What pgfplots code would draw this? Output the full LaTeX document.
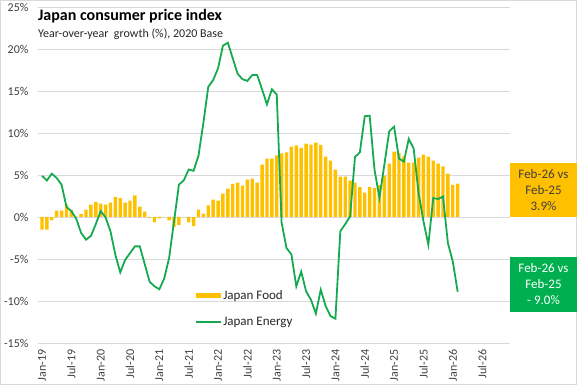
\documentclass[border=0pt]{standalone}
\usepackage{fontspec}
\setmainfont{Carlito}
\usepackage{pgfplots}
\pgfplotsset{compat=1.18}
\definecolor{food}{RGB}{255,192,0}
\definecolor{energy}{RGB}{22,170,80}
\definecolor{boxgreen}{RGB}{0,176,80}
\definecolor{gridc}{RGB}{217,217,217}
\definecolor{lab}{RGB}{64,64,64}
\begin{document}
\begin{tikzpicture}
\useasboundingbox (0pt,0pt) rectangle (577pt,385pt);
\draw[gridc, line width=0.8pt] (0.4pt,0.4pt) rectangle (576.6pt,384.6pt);
\begin{axis}[
  at={(38pt,42pt)}, anchor=south west,
  scale only axis, width=472pt, height=336pt,
  xmin=-0.82, xmax=95.7, ymin=-15, ymax=25,
  ytick={-15,-10,...,25},
  yticklabel={\pgfmathprintnumber{\tick}\%},
  xtick={0,6,...,90},
  xticklabels={Jan-19,Jul-19,Jan-20,Jul-20,Jan-21,Jul-21,Jan-22,Jul-22,Jan-23,Jul-23,Jan-24,Jul-24,Jan-25,Jul-25,Jan-26,Jul-26},
  xticklabel style={yshift=-3pt, rotate=90, anchor=east, font=\fontsize{12}{12}\selectfont, text=lab},
  yticklabel style={xshift=-6pt, font=\fontsize{12}{12}\selectfont, text=lab},
  ymajorgrids, grid style={gridc, line width=0.8pt},
  axis line style={draw=none}, major tick style={draw=none},
  /pgf/number format/assume math mode=true,
  legend style={at={(0.3326,0.160)}, anchor=north west, draw=none, fill=none,
    inner sep=0pt, row sep=14pt, font=\fontsize{13}{13}\selectfont, text=black!85,
    nodes={inner sep=1pt}},
  legend cell align=left,
]
\addplot[ybar, bar width=3.4pt, bar shift=0pt, draw=none, fill=food,
  legend image code/.code={\fill[food] (0pt,-2.5pt) rectangle (25.5pt,2.5pt);}]
coordinates {
(0,-1.5)(1,-1.5)(2,-0.4)(3,0.75)(4,0.75)(5,1.47)(6,0.85)(7,0.05)(8,0.36)(9,0.87)
(10,1.47)(11,1.8)(12,1.6)(13,1.47)(14,1.7)(15,2.4)(16,2.26)(17,1.7)(18,1.95)(19,2.58)
(20,1.23)(21,0.63)(22,-0.08)(23,-0.63)(24,-0.16)(25,0.0)(26,-0.4)(27,-1.2)(28,-0.95)(29,0.0)
(30,-0.63)(31,-1.1)(32,0.87)(33,0.4)(34,1.39)(35,2.06)(36,1.94)(37,2.78)(38,3.37)(39,3.93)
(40,4.09)(41,3.73)(42,4.44)(43,4.56)(44,4.09)(45,6.23)(46,6.96)(47,6.96)(48,7.34)(49,7.56)
(50,7.68)(51,8.37)(52,8.52)(53,8.23)(54,8.73)(55,8.62)(56,8.85)(57,8.6)(58,7.2)(59,6.7)
(60,5.63)(61,4.82)(62,4.82)(63,4.33)(64,4.09)(65,3.57)(66,2.9)(67,3.6)(68,3.45)(69,3.8)
(70,4.94)(71,6.35)(72,7.78)(73,7.6)(74,7.23)(75,6.48)(76,6.48)(77,7.06)(78,7.42)(79,7.18)
(80,6.7)(81,6.35)(82,6.02)(83,5.16)(84,3.82)(85,3.97)
};
\addlegendentry{Japan Food}
\addplot[energy, line width=1.8pt, mark=none,
  legend image code/.code={\draw[energy, line width=1.6pt] (0pt,0pt) -- (25.5pt,0pt);}]
coordinates {
(0,4.9)(1,4.35)(2,5.16)(3,4.64)(4,3.85)(5,1.2)(6,0.7)(7,-0.2)(8,-1.9)(9,-2.7)
(10,-2.25)(11,-0.85)(12,0.7)(13,-0.05)(14,-1.7)(15,-4.5)(16,-6.6)(17,-5.1)(18,-4.3)(19,-3.5)
(20,-3.5)(21,-5.6)(22,-7.7)(23,-8.25)(24,-8.6)(25,-7.3)(26,-4.85)(27,-0.5)(28,3.85)(29,4.37)
(30,5.65)(31,5.5)(32,7.3)(33,11.2)(34,15.5)(35,16.3)(36,17.7)(37,20.4)(38,20.75)(39,18.9)
(40,17.05)(41,16.4)(42,16.2)(43,16.9)(44,16.9)(45,15.2)(46,13.4)(47,15.2)(48,14.6)(49,-0.7)
(50,-3.7)(51,-4.45)(52,-8.25)(53,-6.5)(54,-8.85)(55,-9.85)(56,-11.5)(57,-8.65)(58,-10.6)(59,-11.8)
(60,-12.1)(61,-1.7)(62,-0.85)(63,0.08)(64,7.15)(65,7.7)(66,12.0)(67,12.06)(68,5.6)(69,2.3)
(70,6.2)(71,10.2)(72,10.75)(73,6.95)(74,6.6)(75,9.3)(76,8.15)(77,2.86)(78,-0.5)(79,-3.3)
(80,2.26)(81,2.14)(82,2.43)(83,-3.1)(84,-5.3)(85,-8.9)
};
\addlegendentry{Japan Energy}
\end{axis}
\node[anchor=base west, inner sep=0pt, font=\fontsize{16}{16}\selectfont\bfseries, text=black] at (38pt,364.3pt) {Japan consumer price index};
\node[anchor=base west, inner sep=0pt, font=\fontsize{12}{12}\selectfont, text=black!85] at (38pt,347.7pt) {Year-over-year\ \ growth (\%), 2020 Base};
\fill[food] (510pt,168pt) rectangle (577pt,222pt);
\node[align=center, inner sep=0pt, font=\fontsize{13}{16}\selectfont, text=lab] at (543.5pt,195pt) {Feb-26 vs\\Feb-25\\3.9\%};
\fill[boxgreen] (510pt,73pt) rectangle (577pt,128pt);
\node[align=center, inner sep=0pt, font=\fontsize{13}{16}\selectfont, text=white] at (543.5pt,100.5pt) {Feb-26 vs\\Feb-25\\- 9.0\%};
\end{tikzpicture}
\end{document}
